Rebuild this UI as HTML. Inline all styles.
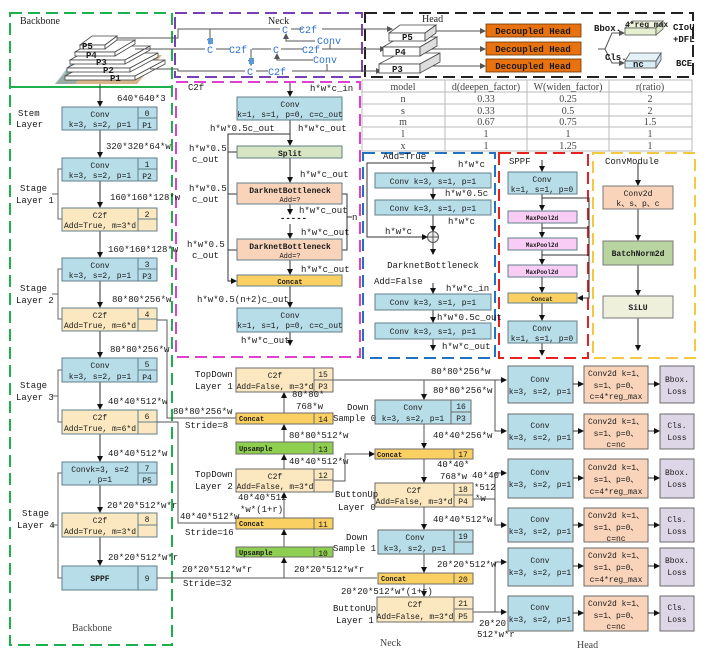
<!DOCTYPE html>
<html><head><meta charset="utf-8"><style>
html,body{margin:0;padding:0;background:#fff}
svg{display:block}
text{font-family:"Liberation Mono",monospace;font-size:9px;fill:#1a1a1a}
.s{font-family:"Liberation Serif",serif;font-size:10px;fill:#444}
.b{font-weight:bold}
.blue{fill:#2a6fd6;font-size:10px}
.m{text-anchor:middle;font-size:8px}
.s.m{font-size:10px}
</style></head><body>
<svg width="721" height="654" viewBox="0 0 721 654" xmlns="http://www.w3.org/2000/svg">
<defs>
<marker id="a" markerWidth="6" markerHeight="6" refX="5" refY="3" orient="auto" markerUnits="userSpaceOnUse"><path d="M0,0 L6,3 L0,6 z" fill="#111"/></marker>
<marker id="g" markerWidth="6" markerHeight="6" refX="5" refY="3" orient="auto" markerUnits="userSpaceOnUse"><path d="M0,0 L6,3 L0,6 z" fill="#555"/></marker>
</defs>
<rect width="721" height="654" fill="#fff"/>

<rect x="10" y="13" width="162" height="632" fill="none" stroke="#1db14b" stroke-width="2" stroke-dasharray="12,6"/>
<line x1="10" y1="87" x2="172" y2="87" stroke="#1db14b" stroke-width="2"/>
<rect x="175" y="13" width="187" height="64" fill="none" stroke="#7a3fb5" stroke-width="2" stroke-dasharray="12,6"/>
<rect x="365" y="13" width="328" height="64" fill="none" stroke="#222" stroke-width="2" stroke-dasharray="12,6"/>
<rect x="176" y="82" width="184" height="275" fill="none" stroke="#e040d0" stroke-width="2" stroke-dasharray="12,6"/>
<rect x="363" y="153" width="132" height="205" fill="none" stroke="#2272c4" stroke-width="2" stroke-dasharray="12,6"/>
<rect x="499" y="153" width="89" height="205" fill="none" stroke="#e82020" stroke-width="2" stroke-dasharray="12,6"/>
<rect x="593" y="153" width="102" height="205" fill="none" stroke="#f5c842" stroke-width="2" stroke-dasharray="12,6"/>

<text x="20" y="24" class="s" style="fill:#222">Backbone</text>
<text x="268" y="24" class="s" style="fill:#222">Neck</text>
<text x="422" y="22" class="s" style="fill:#222">Head</text>

<polygon points="55,84 137,84 162,55 82,55" fill="#d9b58a"/>
<polygon points="80,80 130,80 150,60 110,62" fill="#c0504d" opacity="0.6"/>
<polygon points="55,84 75,84 90,64 70,64" fill="#6fa8b8" opacity="0.6"/>
<g stroke="#444" stroke-width="0.8" fill="#fff">
<polygon points="65,76 135,76 165,60 95,60"/><rect x="65" y="76" width="70" height="4"/><polygon points="135,76 165,60 165,64 135,80"/>
<polygon points="67,68 130,68 158,53 95,53"/><rect x="67" y="68" width="63" height="4"/><polygon points="130,68 158,53 158,57 130,72"/>
<polygon points="70,60 125,60 150,46 95,46"/><rect x="70" y="60" width="55" height="4"/><polygon points="125,60 150,46 150,50 125,64"/>
<polygon points="75,52 115,52 135,40 95,40"/><rect x="75" y="52" width="40" height="4"/><polygon points="115,52 135,40 135,44 115,56"/>
<polygon points="80,45 105,45 117,36 92,36"/><rect x="80" y="45" width="25" height="4"/><polygon points="105,45 117,36 117,40 105,49"/>
</g>
<text x="82" y="49" class="b">P5</text><text x="86" y="58" class="b">P4</text><text x="96" y="65" class="b">P3</text><text x="103" y="73" class="b">P2</text><text x="110" y="81" class="b">P1</text>
<line x1="100" y1="84" x2="100" y2="88" stroke="#444"/>

<g stroke="#555" stroke-width="1" fill="none">
<polyline points="117,38 178,38 178,29 280,29"/><line x1="291" y1="29" x2="303" y2="29"/><line x1="322" y1="29" x2="362" y2="29"/>
<polyline points="135,49 205,49"/><line x1="216" y1="49" x2="230" y2="49"/><line x1="252" y1="49" x2="271" y2="49"/><line x1="281" y1="49" x2="303" y2="49"/><line x1="322" y1="49" x2="362" y2="49"/>
<polyline points="150,69 178,69 178,71 245,71"/><line x1="256" y1="71" x2="268" y2="71"/><line x1="292" y1="71" x2="362" y2="71"/>
<line x1="210" y1="29" x2="210" y2="44" marker-end="url(#g)"/>
<line x1="251" y1="49" x2="251" y2="65" marker-end="url(#g)"/>
<polyline points="315,41 286,41 286,34" marker-end="url(#g)"/><line x1="330" y1="44" x2="330" y2="49"/>
<polyline points="313,60 277,60 277,54" marker-end="url(#g)"/><line x1="327" y1="64" x2="327" y2="71"/>
</g>
<rect x="208" y="38" width="5" height="6" fill="#5b9bd5"/><rect x="249" y="58" width="5" height="6" fill="#5b9bd5"/>
<text x="282" y="33" class="blue">C</text><text x="299" y="33" class="blue">C2f</text>
<text x="207" y="53" class="blue">C</text><text x="229" y="53" class="blue">C2f</text>
<text x="273" y="53" class="blue">C</text><text x="302" y="53" class="blue">C2f</text>
<text x="247" y="75" class="blue">C</text><text x="268" y="75" class="blue">C2f</text>
<text x="317" y="44" class="blue">Conv</text><text x="313" y="63" class="blue">Conv</text>

<g stroke="#555" fill="none"><line x1="362" y1="29" x2="392" y2="29" marker-end="url(#g)"/><line x1="362" y1="49" x2="385" y2="49" marker-end="url(#g)"/><line x1="362" y1="71" x2="381" y2="71" marker-end="url(#g)"/>
<line x1="425" y1="31" x2="485" y2="31" marker-end="url(#g)"/><line x1="425" y1="49" x2="485" y2="49" marker-end="url(#g)"/><line x1="425" y1="66" x2="485" y2="66" marker-end="url(#g)"/></g>
<g stroke="#444" stroke-width="0.8">
<polygon points="379,64 420,64 440,53 400,53" fill="#fff"/><rect x="379" y="64" width="41" height="9" fill="#fff"/><polygon points="420,64 440,53 440,62 420,73" fill="#ddd"/>
<polygon points="383,47 420,47 437,37 400,37" fill="#fff"/><rect x="383" y="47" width="37" height="9" fill="#fff"/><polygon points="420,47 437,37 437,46 420,56" fill="#ddd"/>
<polygon points="389,33 425,33 436,25 400,25" fill="#fff"/><rect x="389" y="33" width="36" height="8" fill="#fff"/><polygon points="425,33 436,25 436,33 425,41" fill="#ddd"/>
</g>
<text x="402" y="40" class="b">P5</text><text x="395" y="55" class="b">P4</text><text x="392" y="72" class="b">P3</text>
<g fill="#e8720f" stroke="#6b3500" stroke-width="0.8"><rect x="486" y="24" width="95" height="13"/><rect x="486" y="42" width="95" height="13"/><rect x="486" y="59" width="95" height="13"/></g>
<text x="533" y="34" class="b" text-anchor="middle">Decoupled Head</text><text x="533" y="52" class="b" text-anchor="middle">Decoupled Head</text><text x="533" y="69" class="b" text-anchor="middle">Decoupled Head</text>
<g stroke="#555" fill="none"><line x1="598" y1="49" x2="605" y2="49"/><polyline points="605,49 612,33 624,33" marker-end="url(#g)"/><polyline points="605,49 612,63 624,63" marker-end="url(#g)"/></g>
<text x="594" y="31" class="b">Bbox.</text><text x="605" y="60" class="b">Cls.</text>
<g stroke="#555" stroke-width="0.8"><polygon points="625,28 656,28 663,21 632,21" fill="#eef3dc"/><rect x="625" y="28" width="31" height="7" fill="#e6efd0"/><polygon points="656,28 663,21 663,29 656,35" fill="#dde6c4"/>
<polygon points="625,61 656,61 661,53 630,53" fill="#e4f2f8"/><rect x="625" y="61" width="31" height="7" fill="#d5ebf5"/><polygon points="656,61 661,53 661,60 656,68" fill="#c8e2ee"/></g>
<text x="625" y="27" style="font-size:8px" class="b">4*reg_max</text><text x="633" y="67" class="b">nc</text>
<text x="673" y="30" class="b">CIoU</text><text x="673" y="42" class="b">+DFL</text><text x="676" y="66" class="b">BCE</text>

<g stroke="#bbb" stroke-width="1" fill="none"><rect x="362" y="80" width="330" height="71"/>
<line x1="445" y1="80" x2="445" y2="151"/><line x1="527" y1="80" x2="527" y2="151"/><line x1="609" y1="80" x2="609" y2="151"/>
<line x1="362" y1="92" x2="692" y2="92"/><line x1="362" y1="104" x2="692" y2="104"/><line x1="362" y1="116" x2="692" y2="116"/><line x1="362" y1="127" x2="692" y2="127"/><line x1="362" y1="139" x2="692" y2="139"/></g>
<text x="403" y="90" class="s m">model</text><text x="486" y="90" class="s m">d(deepen_factor)</text><text x="568" y="90" class="s m">W(widen_factor)</text><text x="650" y="90" class="s m">r(ratio)</text>
<text x="403" y="102" class="s m">n</text><text x="486" y="102" class="s m">0.33</text><text x="568" y="102" class="s m">0.25</text><text x="650" y="102" class="s m">2</text>
<text x="403" y="114" class="s m">s</text><text x="486" y="114" class="s m">0.33</text><text x="568" y="114" class="s m">0.5</text><text x="650" y="114" class="s m">2</text>
<text x="403" y="125" class="s m">m</text><text x="486" y="125" class="s m">0.67</text><text x="568" y="125" class="s m">0.75</text><text x="650" y="125" class="s m">1.5</text>
<text x="403" y="137" class="s m">l</text><text x="486" y="137" class="s m">1</text><text x="568" y="137" class="s m">1</text><text x="650" y="137" class="s m">1</text>
<text x="403" y="149" class="s m">x</text><text x="486" y="149" class="s m">1</text><text x="568" y="149" class="s m">1.25</text><text x="650" y="149" class="s m">1</text>

<g stroke="#333" stroke-width="1" fill="none">
<line x1="100" y1="88" x2="100" y2="106" marker-end="url(#a)"/>
<line x1="100" y1="130" x2="100" y2="157" marker-end="url(#a)"/>
<line x1="100" y1="181" x2="100" y2="207" marker-end="url(#a)"/>
<line x1="100" y1="231" x2="100" y2="257" marker-end="url(#a)"/>
<line x1="100" y1="281" x2="100" y2="307" marker-end="url(#a)"/>
<line x1="100" y1="331" x2="100" y2="357" marker-end="url(#a)"/>
<line x1="100" y1="382" x2="100" y2="409" marker-end="url(#a)"/>
<line x1="100" y1="434" x2="100" y2="461" marker-end="url(#a)"/>
<line x1="100" y1="485" x2="100" y2="512" marker-end="url(#a)"/>
<line x1="100" y1="537" x2="100" y2="565" marker-end="url(#a)"/>
</g>
<g stroke="#666" fill="none">
<polyline points="62,169 58,169 58,219 62,219"/><line x1="52" y1="194" x2="58" y2="194"/>
<polyline points="62,269 58,269 58,319 62,319"/><line x1="52" y1="294" x2="58" y2="294"/>
<polyline points="62,370 58,370 58,422 62,422"/><line x1="52" y1="396" x2="58" y2="396"/>
<polyline points="62,473 58,473 58,578 62,578"/><line x1="52" y1="525" x2="58" y2="525"/>
</g>
<g stroke="#5f7f8a" stroke-width="1">
<rect x="62" y="107" width="95" height="23" fill="#b7dde8"/><rect x="62" y="158" width="95" height="23" fill="#b7dde8"/>
<rect x="62" y="208" width="95" height="23" fill="#fce8c0"/><rect x="62" y="258" width="95" height="23" fill="#b7dde8"/>
<rect x="62" y="308" width="95" height="23" fill="#fce8c0"/><rect x="62" y="358" width="95" height="24" fill="#b7dde8"/>
<rect x="62" y="410" width="95" height="24" fill="#fce8c0"/><rect x="62" y="462" width="95" height="23" fill="#b7dde8"/>
<rect x="62" y="513" width="95" height="24" fill="#fce8c0"/><rect x="62" y="566" width="95" height="24" fill="#b7dde8"/>
<path d="M138,107V130M138,118H157M138,158V181M138,169H157M138,208V231M138,219H157M138,258V281M138,269H157M138,308V331M138,319H157M138,358V382M138,370H157M138,410V434M138,422H157M138,462V485M138,473H157M138,513V537M138,525H157M138,566V590" fill="none"/>
</g>
<text x="100" y="117" class="m">Conv</text><text x="100" y="127" class="m">k=3, s=2, p=1</text><text x="147" y="116" class="m">0</text><text x="147" y="128" class="m">P1</text>
<text x="100" y="168" class="m">Conv</text><text x="100" y="178" class="m">k=3, s=2, p=1</text><text x="147" y="167" class="m">1</text><text x="147" y="179" class="m">P2</text>
<text x="100" y="218" class="m">C2f</text><text x="100" y="228" class="m">Add=True, m=3*d</text><text x="147" y="217" class="m">2</text>
<text x="100" y="268" class="m">Conv</text><text x="100" y="278" class="m">k=3, s=2, p=1</text><text x="147" y="267" class="m">3</text><text x="147" y="279" class="m">P3</text>
<text x="100" y="318" class="m">C2f</text><text x="100" y="328" class="m">Add=True, m=6*d</text><text x="147" y="317" class="m">4</text>
<text x="100" y="368" class="m">Conv</text><text x="100" y="379" class="m">k=3, s=2, p=1</text><text x="147" y="367" class="m">5</text><text x="147" y="380" class="m">P4</text>
<text x="100" y="420" class="m">C2f</text><text x="100" y="431" class="m">Add=True, m=6*d</text><text x="147" y="419" class="m">6</text>
<text x="100" y="472" class="m">Convk=3, s=2</text><text x="100" y="482" class="m">, p=1</text><text x="147" y="471" class="m">7</text><text x="147" y="483" class="m">P5</text>
<text x="100" y="523" class="m">C2f</text><text x="100" y="534" class="m">Add=True, m=3*d</text><text x="147" y="522" class="m">8</text>
<text x="100" y="581" class="m b">SPPF</text><text x="147" y="581" class="m">9</text>
<text x="18" y="116">Stem</text><text x="16" y="127">Layer</text>
<text x="20" y="191">Stage</text><text x="16" y="203">Layer 1</text>
<text x="20" y="291">Stage</text><text x="16" y="303">Layer 2</text>
<text x="20" y="388">Stage</text><text x="16" y="400">Layer 3</text>
<text x="22" y="516">Stage</text><text x="17" y="528">Layer 4</text>
<text x="117" y="101">640*640*3</text><text x="106" y="149">320*320*64*w</text><text x="110" y="200">160*160*128*w</text>
<text x="108" y="252">160*160*128*w</text><text x="112" y="302">80*80*256*w</text><text x="110" y="352">80*80*256*w</text>
<text x="108" y="404">40*40*512*w</text><text x="108" y="456">40*40*512*w</text><text x="107" y="508">20*20*512*w*r</text><text x="108" y="560">20*20*512*w*r</text>
<text x="72" y="631" class="s">Backbone</text>

<g stroke="#333" fill="none">
<line x1="290" y1="83" x2="290" y2="96" marker-end="url(#a)"/>
<line x1="290" y1="120" x2="290" y2="145" marker-end="url(#a)"/>
<line x1="290" y1="158" x2="290" y2="182" marker-end="url(#a)"/>
<line x1="290" y1="204" x2="290" y2="214" marker-end="url(#a)"/>
<line x1="290" y1="224" x2="290" y2="238" marker-end="url(#a)"/>
<line x1="290" y1="260" x2="290" y2="274" marker-end="url(#a)"/>
<line x1="290" y1="286" x2="290" y2="307" marker-end="url(#a)"/>
<line x1="290" y1="332" x2="290" y2="345" marker-end="url(#a)"/>
<polyline points="290,134 228,134 228,281 236,281" marker-end="url(#a)"/>
<line x1="228" y1="152" x2="237" y2="152"/><line x1="228" y1="194" x2="237" y2="194"/><line x1="228" y1="250" x2="237" y2="250"/>
<polyline points="342,194 347,194 347,250 342,250"/><line x1="347" y1="217" x2="352" y2="217"/>
</g>
<text x="280" y="221" class="b">-----</text><text x="352" y="220">n</text>
<g stroke="#5f7f8a">
<rect x="237" y="97" width="105" height="23" fill="#b7dde8"/><rect x="237" y="146" width="105" height="12" fill="#d6e6c2"/>
<rect x="237" y="183" width="105" height="21" fill="#f9d4bb"/><rect x="237" y="239" width="105" height="21" fill="#f9d4bb"/>
<rect x="237" y="275" width="105" height="11" fill="#fbd062"/><rect x="237" y="308" width="105" height="24" fill="#b7dde8"/>
</g>
<text x="290" y="107" class="m">Conv</text><text x="290" y="117" class="m">k=1, s=1, p=0, c=c_out</text>
<text x="290" y="156" class="m b">Split</text>
<text x="290" y="193" class="m b">DarknetBottleneck</text><text x="290" y="202" class="m" style="font-size:7px">Add=?</text>
<text x="290" y="249" class="m b">DarknetBottleneck</text><text x="290" y="258" class="m" style="font-size:7px">Add=?</text>
<text x="290" y="284" class="m b" style="font-size:7px">Concat</text>
<text x="290" y="318" class="m">Conv</text><text x="290" y="328" class="m">k=1, s=1, p=0, c=c_out</text>
<text x="188" y="90">C2f</text><text x="310" y="91">h*w*c_in</text>
<text x="210" y="131">h*w*0.5c_out</text><text x="298" y="131">h*w*c_out</text>
<text x="189" y="151">h*w*0.5</text><text x="192" y="162">c_out</text>
<text x="189" y="191">h*w*0.5</text><text x="192" y="202">c_out</text>
<text x="187" y="247">h*w*0.5</text><text x="192" y="258">c_out</text>
<text x="300" y="177">h*w*c_out</text><text x="299" y="213">h*w*c_out</text><text x="301" y="235">h*w*c_out</text><text x="301" y="272">h*w*c_out</text>
<text x="197" y="302">h*w*0.5(n+2)c_out</text><text x="241" y="343">h*w*c_out</text>

<g stroke="#333" fill="none">
<line x1="433" y1="160" x2="433" y2="172" marker-end="url(#a)"/>
<line x1="433" y1="188" x2="433" y2="199" marker-end="url(#a)"/>
<line x1="433" y1="215" x2="433" y2="231" marker-end="url(#a)"/>
<line x1="433" y1="243" x2="433" y2="254" marker-end="url(#a)"/>
<polyline points="433,163 367,163 367,237 427,237" marker-end="url(#a)"/>
<line x1="433" y1="283" x2="433" y2="293" marker-end="url(#a)"/>
<line x1="433" y1="310" x2="433" y2="322" marker-end="url(#a)"/>
<line x1="433" y1="339" x2="433" y2="350" marker-end="url(#a)"/>
</g>
<circle cx="433" cy="237" r="5.5" fill="#eee" stroke="#555"/><path d="M428,237H438M433,232V242" stroke="#555"/>
<g stroke="#5f7f8a" fill="#b7dde8"><rect x="375" y="173" width="116" height="15"/><rect x="375" y="200" width="116" height="15"/><rect x="375" y="294" width="116" height="16"/><rect x="375" y="323" width="116" height="16"/></g>
<text x="433" y="184" class="m">Conv k=3, s=1, p=1</text><text x="433" y="211" class="m">Conv k=3, s=1, p=1</text>
<text x="433" y="305" class="m">Conv k=3, s=1, p=1</text><text x="433" y="334" class="m">Conv k=3, s=1, p=1</text>
<text x="383" y="159">Add=True</text><text x="458" y="167">h*w*c</text><text x="445" y="196">h*w*0.5c</text><text x="448" y="224">h*w*c</text><text x="385" y="234">h*w*c</text>
<text x="433" y="268" text-anchor="middle">DarknetBottleneck</text><text x="374" y="284">Add=False</text>
<text x="446" y="291">h*w*c_in</text><text x="437" y="320">h*w*0.5c_out</text><text x="442" y="349">h*w*c_out</text>

<g stroke="#333" fill="none">
<line x1="542" y1="160" x2="542" y2="171" marker-end="url(#a)"/>
<line x1="542" y1="194" x2="542" y2="210" marker-end="url(#a)"/>
<line x1="542" y1="223" x2="542" y2="237" marker-end="url(#a)"/>
<line x1="542" y1="250" x2="542" y2="264" marker-end="url(#a)"/>
<line x1="542" y1="277" x2="542" y2="292" marker-end="url(#a)"/>
<line x1="542" y1="303" x2="542" y2="320" marker-end="url(#a)"/>
<line x1="542" y1="343" x2="542" y2="355" marker-end="url(#a)"/>
<polyline points="542,198 589,198 589,298 578,298" marker-end="url(#a)"/>
<line x1="542" y1="228" x2="589" y2="228"/><line x1="542" y1="255" x2="589" y2="255"/>
</g>
<g stroke="#5f7f8a"><rect x="508" y="172" width="69" height="22" fill="#b7dde8"/>
<rect x="508" y="211" width="69" height="12" fill="#f9ccf5"/><rect x="508" y="238" width="69" height="12" fill="#f9ccf5"/><rect x="508" y="265" width="69" height="12" fill="#f9ccf5"/>
<rect x="508" y="293" width="69" height="10" fill="#fbd062"/><rect x="508" y="321" width="69" height="22" fill="#b7dde8"/></g>
<text x="509" y="164">SPPF</text>
<text x="542" y="182" class="m">Conv</text><text x="542" y="192" class="m">k=1, s=1, p=0</text>
<text x="542" y="220" class="m b" style="font-size:6px">MaxPool2d</text><text x="542" y="247" class="m b" style="font-size:6px">MaxPool2d</text><text x="542" y="274" class="m b" style="font-size:6px">MaxPool2d</text>
<text x="542" y="301" class="m b" style="font-size:6px">Concat</text>
<text x="542" y="331" class="m">Conv</text><text x="542" y="341" class="m">k=1, s=1, p=0</text>

<g stroke="#333" fill="none">
<line x1="638" y1="163" x2="638" y2="185" marker-end="url(#a)"/>
<line x1="638" y1="209" x2="638" y2="240" marker-end="url(#a)"/>
<line x1="638" y1="265" x2="638" y2="295" marker-end="url(#a)"/>
<line x1="638" y1="318" x2="638" y2="350" marker-end="url(#a)"/>
</g>
<g stroke="#7a7a7a"><rect x="603" y="186" width="70" height="23" fill="#f9d4bb"/><rect x="603" y="241" width="70" height="24" fill="#b9d4a0"/><rect x="603" y="296" width="70" height="22" fill="#eef0dc"/></g>
<text x="605" y="164">ConvModule</text>
<text x="638" y="196" class="m">Conv2d</text><text x="638" y="206" class="m">k、s、p、c</text>
<text x="638" y="256" class="m b">BatchNorm2d</text><text x="638" y="310" class="m b">SiLU</text>

<g stroke="#555" fill="none">
<polyline points="157,320 167,320 167,418 236,418"/>
<polyline points="157,422 178,422 178,523 236,523"/>
<line x1="157" y1="578" x2="377" y2="578"/>
<line x1="284" y1="578" x2="284" y2="558" marker-end="url(#a)"/>
<line x1="284" y1="547" x2="284" y2="530" marker-end="url(#a)"/>
<line x1="284" y1="518" x2="284" y2="493" marker-end="url(#a)"/>
<line x1="284" y1="469" x2="284" y2="455" marker-end="url(#a)"/>
<line x1="284" y1="442" x2="284" y2="425" marker-end="url(#a)"/>
<line x1="284" y1="413" x2="284" y2="393" marker-end="url(#a)"/>
<polyline points="333,481 345,481 345,454 374,454" marker-end="url(#a)"/>
<line x1="333" y1="380" x2="506" y2="380" marker-end="url(#a)"/>
<line x1="424" y1="380" x2="424" y2="399" marker-end="url(#a)"/>
<line x1="424" y1="424" x2="424" y2="448" marker-end="url(#a)"/>
<line x1="424" y1="459" x2="424" y2="482" marker-end="url(#a)"/>
<line x1="424" y1="507" x2="424" y2="529" marker-end="url(#a)"/>
<line x1="424" y1="554" x2="424" y2="572" marker-end="url(#a)"/>
<line x1="424" y1="584" x2="424" y2="596" marker-end="url(#a)"/>
<polyline points="495,380 495,431 506,431" marker-end="url(#a)"/>
<line x1="473" y1="499" x2="495" y2="499"/>
<line x1="495" y1="473" x2="506" y2="473" marker-end="url(#a)"/>
<polyline points="495,473 495,525 506,525" marker-end="url(#a)"/>
<line x1="473" y1="612" x2="506" y2="612" marker-end="url(#a)"/>
<polyline points="495,612 495,562 506,562" marker-end="url(#a)"/>
</g>
<g stroke="#6b6b6b">
<rect x="236" y="368" width="97" height="24" fill="#fce8c0"/><rect x="236" y="413" width="97" height="11" fill="#fbd062"/>
<rect x="236" y="442" width="97" height="12" fill="#8fcf4f"/><rect x="236" y="469" width="97" height="23" fill="#fce8c0"/>
<rect x="236" y="518" width="97" height="11" fill="#fbd062"/><rect x="236" y="547" width="97" height="10" fill="#8fcf4f"/>
<rect x="375" y="400" width="96" height="24" fill="#b7dde8"/><rect x="375" y="449" width="98" height="10" fill="#fbd062"/>
<rect x="375" y="483" width="98" height="24" fill="#fce8c0"/><rect x="378" y="530" width="95" height="24" fill="#b7dde8"/>
<rect x="378" y="573" width="95" height="11" fill="#fbd062"/><rect x="377" y="597" width="96" height="25" fill="#fce8c0"/>
<path d="M314,368V392M314,380H333M314,413V424M314,442V454M314,469V492M314,480H333M314,518V529M314,547V557M451,400V424M451,412H471M454,449V459M454,483V507M454,495H473M454,530V554M454,542H473M454,573V584M454,597V622M454,609H473" fill="none"/>
</g>
<text x="275" y="378" class="m">C2f</text><text x="275" y="389" class="m">Add=False, m=3*d</text><text x="323" y="377" class="m">15</text><text x="323" y="389" class="m">P3</text>
<text x="239" y="421" class="b" style="font-size:7px">Concat</text><text x="323" y="422" class="m">14</text>
<text x="239" y="451" class="b" style="font-size:7px">Upsample</text><text x="323" y="452" class="m">13</text>
<text x="275" y="479" class="m">C2f</text><text x="275" y="489" class="m">Add=False, m=3*d</text><text x="323" y="478" class="m">12</text>
<text x="239" y="526" class="b" style="font-size:7px">Concat</text><text x="323" y="527" class="m">11</text>
<text x="239" y="555" class="b" style="font-size:7px">Upsample</text><text x="323" y="556" class="m">10</text>
<text x="413" y="410" class="m">Conv</text><text x="413" y="421" class="m">k=3, s=2, p=1</text><text x="461" y="409" class="m">16</text><text x="461" y="421" class="m">P3</text>
<text x="377" y="457" class="b" style="font-size:7px">Concat</text><text x="463" y="457" class="m">17</text>
<text x="414" y="493" class="m">C2f</text><text x="414" y="504" class="m">Add=False, m=3*d</text><text x="463" y="492" class="m">18</text><text x="463" y="504" class="m">P4</text>
<text x="415" y="540" class="m">Conv</text><text x="415" y="551" class="m">k=3, s=2, p=1</text><text x="463" y="539" class="m">19</text>
<text x="381" y="581" class="b" style="font-size:7px">Concat</text><text x="463" y="582" class="m">20</text>
<text x="415" y="607" class="m">C2f</text><text x="415" y="619" class="m">Add=False, m=3*d</text><text x="463" y="606" class="m">21</text><text x="463" y="619" class="m">P5</text>
<text x="195" y="377">TopDown</text><text x="195" y="389">Layer 1</text>
<text x="195" y="477">TopDown</text><text x="195" y="489">Layer 2</text>
<text x="347" y="410">Down</text><text x="333" y="421">Sample 0</text>
<text x="346" y="540">Down</text><text x="333" y="551">Sample 1</text>
<text x="335" y="497">ButtonUp</text><text x="338" y="510">Layer 0</text>
<text x="333" y="611">ButtonUp</text><text x="336" y="623">Layer 1</text>
<text x="173" y="414">80*80*256*w</text><text x="185" y="428">Stride=8</text>
<text x="180" y="519">40*40*512*w</text><text x="185" y="535">Stride=16</text>
<text x="182" y="572">20*20*512*w*r</text><text x="183" y="586">Stride=32</text><text x="294" y="572">20*20*512*w*r</text>
<text x="292" y="397">80*80*</text><text x="296" y="409">768*w</text><text x="289" y="438">80*80*512*w</text>
<text x="289" y="464">40*40*512*w</text><text x="238" y="500">40*40*512</text><text x="240" y="512">*w*(1+r)</text>
<text x="431" y="374">80*80*256*w</text><text x="433" y="393">80*80*256*w</text><text x="433" y="438">40*40*256*w</text>
<text x="437" y="467">40*40*</text><text x="440" y="479">768*w</text>
<text x="472" y="478">40*40</text><text x="474" y="490">*512</text><text x="475" y="501">*w</text>
<text x="433" y="522">40*40*512*w</text><text x="437" y="567">20*20*512*w</text><text x="341" y="594">20*20*512*w*(1+r)</text>
<text x="479" y="626">20*20*</text><text x="477" y="637">512*w*r</text>
<text x="380" y="646" class="s">Neck</text>

<g stroke="#6b6b6b">
<rect x="508" y="366" width="65" height="37" fill="#b7dde8"/><rect x="508" y="414" width="65" height="35" fill="#b7dde8"/>
<rect x="508" y="459" width="65" height="39" fill="#b7dde8"/><rect x="508" y="508" width="65" height="34" fill="#b7dde8"/>
<rect x="508" y="548" width="65" height="38" fill="#b7dde8"/><rect x="508" y="596" width="65" height="35" fill="#b7dde8"/>
<rect x="584" y="366" width="64" height="37" fill="#f9d4bb"/><rect x="584" y="414" width="64" height="35" fill="#f9d4bb"/>
<rect x="584" y="459" width="64" height="39" fill="#f9d4bb"/><rect x="584" y="508" width="64" height="34" fill="#f9d4bb"/>
<rect x="584" y="548" width="64" height="38" fill="#f9d4bb"/><rect x="584" y="596" width="64" height="35" fill="#f9d4bb"/>
<rect x="660" y="366" width="34" height="37" fill="#ddd6e6"/><rect x="660" y="414" width="34" height="35" fill="#ddd6e6"/>
<rect x="660" y="459" width="34" height="39" fill="#ddd6e6"/><rect x="660" y="508" width="34" height="34" fill="#ddd6e6"/>
<rect x="660" y="548" width="34" height="38" fill="#ddd6e6"/><rect x="660" y="596" width="34" height="35" fill="#ddd6e6"/>
</g>
<g stroke="#333" fill="none">
<line x1="573" y1="384" x2="583" y2="384" marker-end="url(#a)"/><line x1="648" y1="384" x2="659" y2="384" marker-end="url(#a)"/>
<line x1="573" y1="431" x2="583" y2="431" marker-end="url(#a)"/><line x1="648" y1="431" x2="659" y2="431" marker-end="url(#a)"/>
<line x1="573" y1="478" x2="583" y2="478" marker-end="url(#a)"/><line x1="648" y1="478" x2="659" y2="478" marker-end="url(#a)"/>
<line x1="573" y1="525" x2="583" y2="525" marker-end="url(#a)"/><line x1="648" y1="525" x2="659" y2="525" marker-end="url(#a)"/>
<line x1="573" y1="566" x2="583" y2="566" marker-end="url(#a)"/><line x1="648" y1="566" x2="659" y2="566" marker-end="url(#a)"/>
<line x1="573" y1="613" x2="583" y2="613" marker-end="url(#a)"/><line x1="648" y1="613" x2="659" y2="613" marker-end="url(#a)"/>
</g>
<text x="540" y="382" class="m">Conv</text><text x="540" y="394" class="m">k=3, s=2, p=1</text>
<text x="540" y="428" class="m">Conv</text><text x="540" y="440" class="m">k=3, s=2, p=1</text>
<text x="540" y="475" class="m">Conv</text><text x="540" y="487" class="m">k=3, s=2, p=1</text>
<text x="540" y="522" class="m">Conv</text><text x="540" y="534" class="m">k=3, s=2, p=1</text>
<text x="540" y="563" class="m">Conv</text><text x="540" y="575" class="m">k=3, s=2, p=1</text>
<text x="540" y="610" class="m">Conv</text><text x="540" y="622" class="m">k=3, s=2, p=1</text>
<text x="616" y="376" class="m">Conv2d k=1、</text><text x="616" y="388" class="m">s=1、p=0、</text><text x="616" y="399" class="m">c=4*reg_max</text>
<text x="616" y="424" class="m">Conv2d k=1、</text><text x="616" y="436" class="m">s=1、p=0、</text><text x="616" y="447" class="m">c=nc</text>
<text x="616" y="470" class="m">Conv2d k=1、</text><text x="616" y="482" class="m">s=1、p=0、</text><text x="616" y="494" class="m">c=4*reg_max</text>
<text x="616" y="518" class="m">Conv2d k=1、</text><text x="616" y="530" class="m">s=1、p=0、</text><text x="616" y="541" class="m">c=nc</text>
<text x="616" y="558" class="m">Conv2d k=1、</text><text x="616" y="570" class="m">s=1、p=0、</text><text x="616" y="582" class="m">c=4*reg_max</text>
<text x="616" y="606" class="m">Conv2d k=1、</text><text x="616" y="618" class="m">s=1、p=0、</text><text x="616" y="629" class="m">c=nc</text>
<text x="677" y="382" class="m">Bbox.</text><text x="677" y="394" class="m">Loss</text>
<text x="677" y="428" class="m">Cls.</text><text x="677" y="440" class="m">Loss</text>
<text x="677" y="475" class="m">Bbox.</text><text x="677" y="487" class="m">Loss</text>
<text x="677" y="522" class="m">Cls.</text><text x="677" y="534" class="m">Loss</text>
<text x="677" y="563" class="m">Bbox.</text><text x="677" y="575" class="m">Loss</text>
<text x="677" y="610" class="m">Cls.</text><text x="677" y="622" class="m">Loss</text>
<text x="577" y="648" class="s">Head</text>
</svg>
</body></html>
